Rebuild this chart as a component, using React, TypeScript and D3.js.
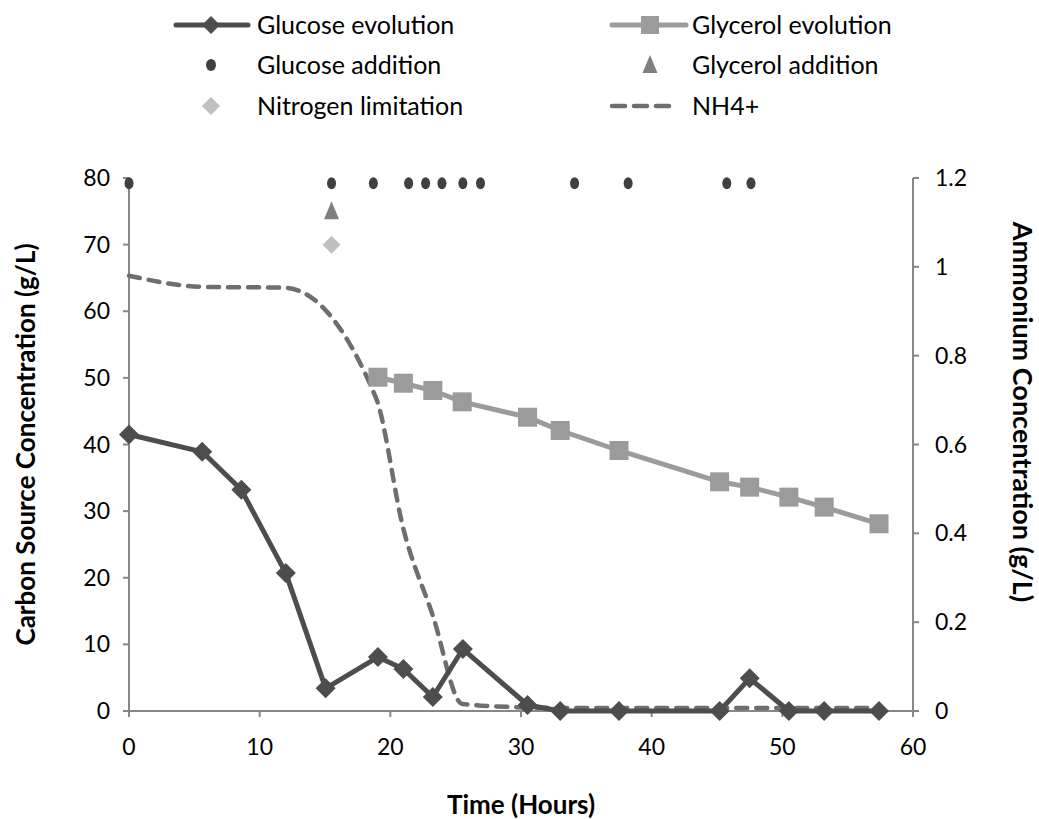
import React from "react";
import * as d3 from "d3";

const glucoseTime = [0, 5.6, 8.6, 12.0, 15.05, 19.05, 21.0, 23.25, 25.55, 30.5, 33.0, 37.5, 45.2, 47.5, 50.5, 53.2, 57.4];
const glucoseConc = [41.5, 38.9, 33.2, 20.7, 3.4, 8.1, 6.3, 2.1, 9.3, 0.9, 0, 0, 0, 4.9, 0, 0, 0];

const glycerolTime = [19.05, 21.0, 23.25, 25.5, 30.5, 33.0, 37.5, 45.2, 47.5, 50.5, 53.2, 57.4];
const glycerolConc = [50.1, 49.2, 48.1, 46.4, 44.1, 42.1, 39.1, 34.4, 33.6, 32.1, 30.6, 28.1];

const nh4Time = [0, 5.6, 11.9, 18.9, 21.0, 23.25, 25.5, 30.5, 33.0, 37.5, 45.2, 47.5, 50.5, 53.2, 57.4];
const nh4Conc = [0.98, 0.955, 0.953, 0.705, 0.41, 0.215, 0.016, 0.008, 0.007, 0.007, 0.007, 0.007, 0.007, 0.007, 0.007];

const glucoseAdditionTime = [0, 15.5, 18.7, 21.4, 22.7, 23.95, 25.55, 26.9, 34.1, 38.2, 45.75, 47.6];
const glucoseAdditionLevel = 79.2;
const glycerolAdditionTime = [15.5];
const glycerolAdditionLevel = [75];
const nitrogenLimitTime = [15.5];
const nitrogenLimitLevel = [70];

const xTicks = [0, 10, 20, 30, 40, 50, 60];
const yLeftTicks = [0, 10, 20, 30, 40, 50, 60, 70, 80];
const yRightTicks = [0, 0.2, 0.4, 0.6, 0.8, 1, 1.2];

const W = 1039, H = 819;
const L = 129, R = 913, T = 178, B = 711;
const FONT = "Lato, 'Open Sans', sans-serif";

const C_GLU = "#4d4d4d";
const C_GLY = "#9b9b9b";
const C_DOT = "#404040";
const C_TRI = "#7f7f7f";
const C_DIA = "#c0c0c0";
const C_NH4 = "#6e6e6e";
const C_AXIS = "#878787";

export default function App() {
  const x = d3.scaleLinear().domain([0, 60]).range([L, R]);
  const yL = d3.scaleLinear().domain([0, 80]).range([B, T]);
  const yR = d3.scaleLinear().domain([0, 1.2]).range([B, T]);

  const lineL = d3.line<[number, number]>().x(d => x(d[0])).y(d => yL(d[1]));
  const nh4Line = d3.line<[number, number]>().x(d => x(d[0])).y(d => yR(d[1])).curve(d3.curveMonotoneX);

  const glu: [number, number][] = glucoseTime.map((t, i) => [t, glucoseConc[i]]);
  const gly: [number, number][] = glycerolTime.map((t, i) => [t, glycerolConc[i]]);
  const nh4: [number, number][] = nh4Time.map((t, i) => [t, nh4Conc[i]]);

  const diamond = (cx: number, cy: number, r: number) => `M${cx},${cy - r}L${cx + r},${cy}L${cx},${cy + r}L${cx - r},${cy}Z`;
  const triangle = (cx: number, cy: number, s: number) => `M${cx},${cy - s}L${cx + s * 0.75},${cy + s * 0.8}L${cx - s * 0.75},${cy + s * 0.8}Z`;

  const legX1 = 211, legX2 = 650, legTx1 = 257, legTx2 = 692;
  const rows = [25, 65, 106];
  const LF = 25;

  return (
    <svg width={W} height={H} style={{ position: "absolute", left: 0, top: 0, background: "#fff" }} fontFamily={FONT}>
      <g>
        <line x1={legX1 - 35} x2={legX1 + 37} y1={rows[0]} y2={rows[0]} stroke={C_GLU} strokeWidth={5} strokeLinecap="round" />
        <path d={diamond(legX1, rows[0], 9)} fill={C_GLU} />
        <text x={legTx1} y={rows[0]} dy="0.35em" fontSize={LF}>Glucose evolution</text>

        <ellipse cx={legX1} cy={rows[1]} rx={5} ry={6} fill={C_DOT} />
        <text x={legTx1} y={rows[1]} dy="0.35em" fontSize={LF}>Glucose addition</text>

        <path d={diamond(legX1, rows[2], 9)} fill={C_DIA} />
        <text x={legTx1} y={rows[2]} dy="0.35em" fontSize={LF}>Nitrogen limitation</text>

        <line x1={legX2 - 38} x2={legX2 + 36} y1={rows[0]} y2={rows[0]} stroke={C_GLY} strokeWidth={5} strokeLinecap="round" />
        <rect x={legX2 - 9} y={rows[0] - 9} width={18} height={18} fill={C_GLY} />
        <text x={legTx2} y={rows[0]} dy="0.35em" fontSize={LF}>Glycerol evolution</text>

        <path d={triangle(legX2, rows[1], 10)} fill={C_TRI} />
        <text x={legTx2} y={rows[1]} dy="0.35em" fontSize={LF}>Glycerol addition</text>

        <line x1={legX2 - 38} x2={legX2 + 26} y1={rows[2]} y2={rows[2]} stroke={C_NH4} strokeWidth={4.5} strokeDasharray="13 9" strokeLinecap="round" />
        <text x={legTx2} y={rows[2]} dy="0.35em" fontSize={LF}>NH4+</text>
      </g>

      <g stroke={C_AXIS} strokeWidth={2} fill="none">
        <line x1={L} x2={L} y1={T} y2={B} />
        <line x1={R} x2={R} y1={T} y2={B} />
        <line x1={L - 6} x2={R + 6} y1={B} y2={B} />
        {yLeftTicks.map(v => <line key={"yl" + v} x1={L - 6} x2={L} y1={yL(v)} y2={yL(v)} />)}
        {yRightTicks.map(v => <line key={"yr" + v} x1={R} x2={R + 6} y1={yR(v)} y2={yR(v)} />)}
        {xTicks.map(v => <line key={"xt" + v} x1={x(v)} x2={x(v)} y1={B} y2={B + 6} />)}
      </g>
      <g fontSize={23} fill="#000">
        {yLeftTicks.map(v => <text key={"lyl" + v} x={L - 19} y={yL(v)} dy="0.35em" textAnchor="end">{v}</text>)}
        {yRightTicks.map(v => <text key={"lyr" + v} x={R + 22} y={yR(v)} dy="0.35em" textAnchor="start">{v}</text>)}
        {xTicks.map(v => <text key={"lx" + v} x={x(v)} y={747} dy="0.35em" textAnchor="middle">{v}</text>)}
      </g>
      <text x={(L + R) / 2} y={805} dy="0.35em" textAnchor="middle" fontSize={26} fontWeight="bold">Time (Hours)</text>
      <text transform={`translate(26,${(T + B) / 2}) rotate(-90)`} dy="0.35em" textAnchor="middle" fontSize={26} fontWeight="bold">Carbon Source  Concentration (g/L)</text>
      <text transform={`translate(1022,412) rotate(90)`} dy="0.35em" textAnchor="middle" fontSize={27} fontWeight="bold">Ammonium Concentration (g/L)</text>

      <path d={nh4Line(nh4) || ""} fill="none" stroke={C_NH4} strokeWidth={4.5} strokeDasharray="11 9" strokeLinecap="round" />

      <path d={lineL(gly) || ""} fill="none" stroke={C_GLY} strokeWidth={5} />
      {gly.map((d, i) => <rect key={"gs" + i} x={x(d[0]) - 9.5} y={yL(d[1]) - 9.5} width={19} height={19} fill={C_GLY} />)}

      <path d={lineL(glu) || ""} fill="none" stroke={C_GLU} strokeWidth={5} strokeLinejoin="round" />
      {glu.map((d, i) => <path key={"gd" + i} d={diamond(x(d[0]), yL(d[1]), 10)} fill={C_GLU} />)}

      {glucoseAdditionTime.map((t, i) => <ellipse key={"ga" + i} cx={x(t)} cy={yL(glucoseAdditionLevel)} rx={4.5} ry={6} fill={C_DOT} />)}
      {glycerolAdditionTime.map((t, i) => <path key={"gya" + i} d={triangle(x(t), yL(glycerolAdditionLevel[i]), 10)} fill={C_TRI} />)}
      {nitrogenLimitTime.map((t, i) => <path key={"nl" + i} d={diamond(x(t), yL(nitrogenLimitLevel[i]), 9)} fill={C_DIA} />)}
    </svg>
  );
}
